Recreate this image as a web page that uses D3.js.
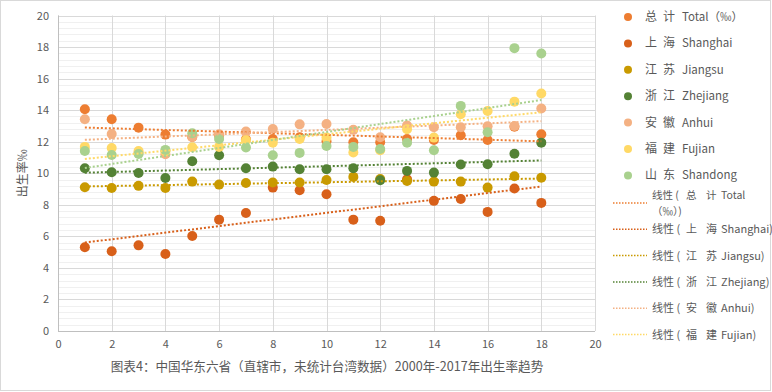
<!DOCTYPE html>
<html><head><meta charset="utf-8">
<script src="https://cdn.jsdelivr.net/npm/d3@7"></script>
<style>
body{margin:0;background:#fff;}
svg text{font-family:"Noto Sans CJK SC","Noto Sans",sans-serif;fill:#595959;}
</style></head>
<body><svg id="c" width="772" height="392"></svg>
<script>
const years = [1,2,3,4,5,6,7,8,9,10,11,12,13,14,15,16,17,18];
const nameZh1 = ["总","上","江","浙","安","福","山"];
const nameZh2 = ["计","海","苏","江","徽","建","东"];
const nameEn = ["Total（‰）","Shanghai","Jiangsu","Zhejiang","Anhui","Fujian","Shandong"];
const seriesColors = ["#ED7D31","#D8601A","#C99A00","#548235","#F4B183","#FFD966","#A9D18E"];
const total    = [14.06,13.42,12.89,12.45,12.30,12.40,12.16,12.17,12.28,12.03,11.96,11.96,12.17,12.11,12.41,12.11,12.95,12.47];
const shanghai = [5.31,5.05,5.43,4.88,6.02,7.06,7.48,9.09,8.92,8.67,7.06,6.99,9.62,8.25,8.37,7.55,9.03,8.12];
const jiangsu  = [9.11,9.07,9.20,9.07,9.47,9.28,9.38,9.41,9.41,9.57,9.77,9.64,9.51,9.47,9.47,9.09,9.81,9.72];
const zhejiang = [10.32,10.06,10.02,9.70,10.76,11.14,10.32,10.42,10.25,10.25,10.32,9.56,10.15,10.04,10.55,10.57,11.24,11.94];
const anhui    = [13.42,12.49,11.30,11.20,12.30,12.47,12.64,12.81,13.10,13.12,12.75,12.28,13.02,12.92,12.92,12.98,13.00,14.10];
const fujian   = [11.67,11.60,11.41,11.40,11.65,11.67,12.09,11.94,12.17,12.26,11.31,11.46,12.79,12.26,13.74,13.95,14.54,15.05];
const shandong = [11.41,11.16,11.22,11.48,12.54,12.17,11.63,11.14,11.29,11.73,11.67,11.54,11.94,11.46,14.27,12.60,17.93,17.59];
const allSeries = [total,shanghai,jiangsu,zhejiang,anhui,fujian,shandong];
const xTicks = [0,2,4,6,8,10,12,14,16,18,20];
const yTicks = [0,2,4,6,8,10,12,14,16,18,20];
const yMinor = d3.range(0,20.01,0.4);
const trendPrefix = "线性 (";
const trendEn = ["Total","Shanghai)","Jiangsu)","Zhejiang)","Anhui)","Fujian)"];
const trendWrap = "（‰）)";
const title = "图表4：中国华东六省（直辖市，未统计台湾数据）2000年-2017年出生率趋势";
const yLabel = "出生率‰";

const svg = d3.select("#c");
svg.append("rect").attr("x",0.5).attr("y",0.5).attr("width",770).attr("height",390).attr("fill","#fff").attr("stroke","#D9D9D9");

const x = d3.scaleLinear().domain([0,20]).range([58,595]);
const y = d3.scaleLinear().domain([0,20]).range([331,15.5]);

svg.append("g").selectAll("line").data(yMinor).join("line")
  .attr("x1",x(0)).attr("x2",x(20)).attr("y1",d=>Math.round(y(d))+0.5).attr("y2",d=>Math.round(y(d))+0.5)
  .attr("stroke","#F0F0F0").attr("stroke-width",1);
svg.append("g").selectAll("line").data(yTicks).join("line")
  .attr("x1",x(0)).attr("x2",x(20)).attr("y1",d=>Math.round(y(d))+0.5).attr("y2",d=>Math.round(y(d))+0.5)
  .attr("stroke","#D9D9D9");
svg.append("g").selectAll("line").data(xTicks).join("line")
  .attr("y1",y(0)).attr("y2",y(20)).attr("x1",d=>Math.round(x(d))+0.5).attr("x2",d=>Math.round(x(d))+0.5)
  .attr("stroke","#D9D9D9");
svg.append("line").attr("x1",Math.round(x(0))+0.5).attr("x2",Math.round(x(0))+0.5).attr("y1",y(0)).attr("y2",y(20)).attr("stroke","#BFBFBF");
svg.append("line").attr("x1",x(0)).attr("x2",x(20)).attr("y1",Math.round(y(0))+0.5).attr("y2",Math.round(y(0))+0.5).attr("stroke","#BFBFBF");

const yAxis = svg.append("g").attr("transform",`translate(${x(0)},0)`)
  .call(d3.axisLeft(y).tickValues(yTicks).tickSize(0).tickPadding(9).tickFormat(d3.format("d")));
const xAxis = svg.append("g").attr("transform",`translate(0,${y(0)})`)
  .call(d3.axisBottom(x).tickValues(xTicks).tickSize(0).tickPadding(9).tickFormat(d3.format("d")));
[yAxis,xAxis].forEach(a=>{a.select(".domain").remove(); a.selectAll("text").attr("font-size",11).style("fill","#595959").attr("font-family","Noto Sans, sans-serif");});

allSeries.forEach((s,i)=>{
  svg.append("g").selectAll("circle").data(s).join("circle")
    .attr("cx",(d,j)=>x(years[j])).attr("cy",d=>y(d)).attr("r",5)
    .attr("fill",seriesColors[i]);
});
function fit(s){
  const mx=d3.mean(years), my=d3.mean(s);
  let num=0,den=0; years.forEach((xv,j)=>{num+=(xv-mx)*(s[j]-my);den+=(xv-mx)*(xv-mx);});
  const b=num/den, a=my-b*mx; return v=>a+b*v;
}
allSeries.forEach((s,i)=>{
  const f=fit(s), x0=d3.min(years), x1=d3.max(years);
  svg.append("line").attr("x1",x(x0)).attr("x2",x(x1)).attr("y1",y(f(x0))).attr("y2",y(f(x1)))
    .attr("stroke",seriesColors[i]).attr("stroke-width",2).attr("stroke-dasharray","2 2");
});

svg.append("text").attr("transform",`translate(27,${y(10)}) rotate(-90)`).attr("text-anchor","middle")
  .attr("font-size",12).text(yLabel);
svg.append("text").attr("x",327).attr("y",371).attr("text-anchor","middle").attr("font-size",12.6).text(title);

const lg = svg.append("g");
nameEn.forEach((en,i)=>{
  const yy = 17 + i*26.4;
  lg.append("circle").attr("cx",628).attr("cy",yy).attr("r",4).attr("fill",seriesColors[i]);
  lg.append("text").attr("x",645).attr("y",yy+4).attr("font-size",12).text(nameZh1[i]);
  lg.append("text").attr("x",663).attr("y",yy+4).attr("font-size",12).text(nameZh2[i]);
  lg.append("text").attr("x",682).attr("y",yy+4).attr("font-size",11.5).text(en);
});
trendEn.forEach((en,i)=>{
  const yy = 203 + i*26.3;
  lg.append("line").attr("x1",613).attr("x2",647).attr("y1",yy).attr("y2",yy)
    .attr("stroke",seriesColors[i]).attr("stroke-width",1.5).attr("stroke-dasharray","1.5 1.5");
  const fs = i===0 ? 10.5 : 11;
  const ty = i===0 ? yy-4 : yy+4;
  lg.append("text").attr("x",652).attr("y",ty).attr("font-size",fs).text(trendPrefix);
  lg.append("text").attr("x",686).attr("y",ty).attr("font-size",fs).text(nameZh1[i]);
  lg.append("text").attr("x",706).attr("y",ty).attr("font-size",fs).text(nameZh2[i]);
  lg.append("text").attr("x",721).attr("y",ty).attr("font-size",fs).text(en);
  if(i===0) lg.append("text").attr("x",652).attr("y",ty+15.5).attr("font-size",fs).text(trendWrap);
});
</script></body></html>
